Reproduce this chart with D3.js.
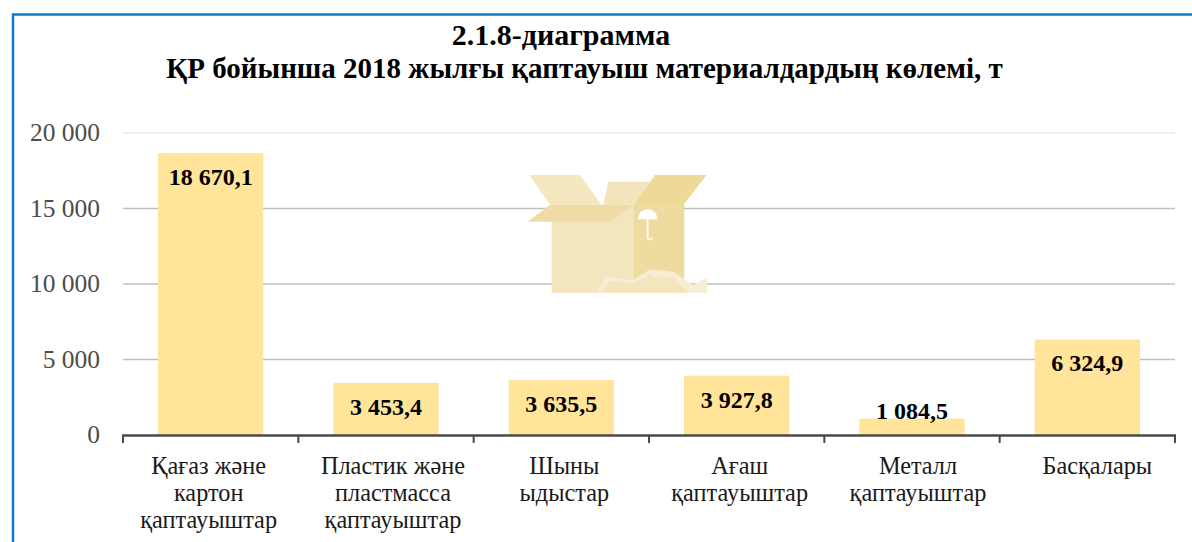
<!DOCTYPE html>
<html>
<head>
<meta charset="utf-8">
<script src="https://cdn.jsdelivr.net/npm/d3@7"></script>
<style>
  html, body { margin: 0; padding: 0; background: #fff; }
  svg { display: block; }
  text { font-family: "Liberation Serif", "DejaVu Serif", serif; }
</style>
</head>
<body>
<svg id="chart"></svg>
<script>
const categories = [
  ["Қағаз және", "картон", "қаптауыштар"],
  ["Пластик және", "пластмасса", "қаптауыштар"],
  ["Шыны", "ыдыстар"],
  ["Ағаш", "қаптауыштар"],
  ["Металл", "қаптауыштар"],
  ["Басқалары"]
];
const values = [18670.1, 3453.4, 3635.5, 3927.8, 1084.5, 6324.9];
const valueLabels = ["18 670,1", "3 453,4", "3 635,5", "3 927,8", "1 084,5", "6 324,9"];
const yTicks = [0, 5000, 10000, 15000, 20000];
const yTickLabels = ["0", "5 000", "10 000", "15 000", "20 000"];
const titleLines = ["2.1.8-диаграмма", "ҚР бойынша 2018 жылғы қаптауыш материалдардың көлемі, т"];

const width = 1192, height = 542;
const margin = { top: 133, right: 17, bottom: 107, left: 123 };
// the category labels don't sit exactly under their bars in the original
const labelShift = [-2, 7, 3, 3, 6, 10];

const svg = d3.select("#chart").attr("width", width).attr("height", height);

// blue frame, cut off by the right and bottom of the picture
svg.append("path")
  .attr("d", `M13,${height + 5}V14.5H${width + 5}`)
  .attr("fill", "none")
  .attr("stroke", "#0b7bcb")
  .attr("stroke-width", 2.5);

svg.selectAll(".title")
  .data(titleLines)
  .join("text")
  .attr("class", "title")
  .attr("x", (d, i) => i ? 584.5 : 561)
  .attr("y", (d, i) => 45 + i * 33)
  .attr("text-anchor", "middle")
  .attr("font-size", (d, i) => i ? 29 : 30)
  .attr("font-weight", "bold")
  .attr("fill", "#000")
  .text(d => d);

const x = d3.scaleBand()
  .domain(d3.range(categories.length))
  .range([margin.left, width - margin.right])
  .paddingInner(0.4)
  .paddingOuter(0.2);

const y = d3.scaleLinear()
  .domain([0, 20000])
  .range([height - margin.bottom, margin.top]);

// gridlines
svg.append("g")
  .selectAll("line")
  .data(yTicks.slice(1))
  .join("line")
  .attr("x1", margin.left)
  .attr("x2", width - margin.right)
  .attr("y1", d => y(d))
  .attr("y2", d => y(d))
  .attr("stroke", d => d === 20000 ? "#e8e8e8" : "#bfbfbf")
  .attr("stroke-width", 1.5);

// box picture behind the bars
const box = svg.append("g")
  .attr("transform", "translate(500,150) scale(0.3333)");
const boxParts = [
  ["M88,75H240L305,165H150Z", "#f5e7bf"],
  ["M325,95H450L400,165H310Z", "#f2e4bb"],
  ["M465,75H620L550,165H400Z", "#eed999"],
  ["M155,215H335L400,165V428H155Z", "#f3e5bd"],
  ["M400,165H553V428H400Z", "#eedb9f"],
  ["M150,165H400L335,215H82Z", "#efdba3"],
  ["M290,428L320,380L400,390L450,358L520,365L580,405L622,382V428Z", "#f6edd4"],
  ["M300,428L330,392L400,400L450,372L480,395L500,428Z", "#f3e5bd"],
  ["M500,428L470,378L520,382L570,428Z", "#f3e5bd"],
  ["M413,208A30,30 0 0 1 473,208Z", "#fff"]
];
box.selectAll("path")
  .data(boxParts)
  .join("path")
  .attr("d", d => d[0])
  .attr("fill", d => d[1]);
box.append("path")
  .attr("d", "M443,205V265Q450,275 457,262")
  .attr("fill", "none")
  .attr("stroke", "#fff")
  .attr("stroke-width", 5);

svg.append("g")
  .selectAll("rect")
  .data(values)
  .join("rect")
  .attr("x", (d, i) => x(i))
  .attr("y", d => y(d))
  .attr("width", x.bandwidth())
  .attr("height", d => y(0) - y(d))
  .attr("fill", "#ffe499");

svg.append("g")
  .selectAll("text")
  .data(valueLabels)
  .join("text")
  .attr("x", (d, i) => x(i) + x.bandwidth() / 2)
  .attr("y", (d, i) => y(values[i]) + (i === 4 ? 0 : 32))
  .attr("text-anchor", "middle")
  .attr("font-size", 24)
  .attr("font-weight", "bold")
  .attr("fill", "#000")
  .text(d => d);

// y labels
svg.append("g")
  .selectAll("text")
  .data(yTicks)
  .join("text")
  .attr("x", 100)
  .attr("y", d => y(d) + 8)
  .attr("text-anchor", "end")
  .attr("font-size", 25.5)
  .attr("fill", "#4d4d4d")
  .text((d, i) => yTickLabels[i]);

// x axis with ticks between the categories
const step = x.step();
svg.append("g")
  .selectAll("line")
  .data(d3.range(categories.length + 1))
  .join("line")
  .attr("x1", i => margin.left + i * step)
  .attr("x2", i => margin.left + i * step)
  .attr("y1", y(0))
  .attr("y2", y(0) + 8)
  .attr("stroke", "#4a4a4a")
  .attr("stroke-width", 2);
svg.append("line")
  .attr("x1", margin.left - 1)
  .attr("x2", width - margin.right + 1)
  .attr("y1", y(0) + 0.5)
  .attr("y2", y(0) + 0.5)
  .attr("stroke", "#4a4a4a")
  .attr("stroke-width", 2.5);

const xLabels = svg.append("g")
  .selectAll("text")
  .data(categories)
  .join("text")
  .attr("text-anchor", "middle")
  .attr("font-size", 24.3)
  .attr("fill", "#1a1a1a");
xLabels.selectAll("tspan")
  .data((d, i) => d.map(line => ({ line, i })))
  .join("tspan")
  .attr("x", d => x(d.i) + x.bandwidth() / 2 + labelShift[d.i])
  .attr("y", (d, j) => 474 + j * 27)
  .text(d => d.line);
</script>
</body>
</html>
